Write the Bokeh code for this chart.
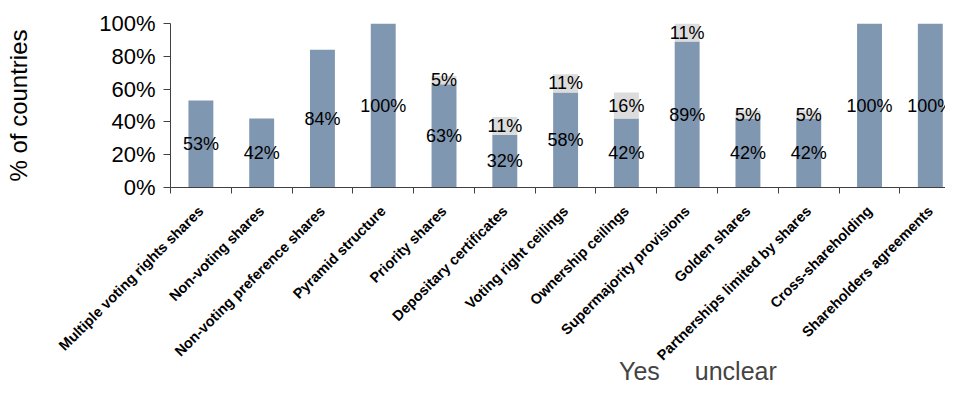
import math
from bokeh.plotting import figure
from bokeh.layouts import column
from bokeh.models import (ColumnDataSource, Range1d, FixedTicker, NumeralTickFormatter,
                          Legend, LegendItem, LabelSet)
from bokeh.core.properties import value
from bokeh.embed import file_html
from bokeh.resources import INLINE

categories = ["Multiple voting rights shares", "Non-voting shares", "Non-voting preference shares",
              "Pyramid structure", "Priority shares", "Depositary certificates",
              "Voting right ceilings", "Ownership ceilings", "Supermajority provisions",
              "Golden shares", "Partnerships limited by shares", "Cross-shareholding",
              "Shareholders agreements"]
yes = [53, 42, 84, 100, 63, 32, 58, 42, 89, 42, 42, 100, 100]
unclear = [0, 0, 0, 0, 5, 11, 11, 16, 11, 5, 5, 0, 0]
y_ticks = [0, 0.2, 0.4, 0.6, 0.8, 1.0]
series_names = ["Yes", "unclear"]

FONT = "Liberation Sans"
BLUE = "#8097B2"
GREY = "#DCDCDC"

xs = [i + 0.5 for i in range(len(categories))]
src = ColumnDataSource(dict(
    x=xs,
    yes=[v / 100 for v in yes],
    unclear=[v / 100 for v in unclear],
))

p = figure(frame_width=775, frame_height=164, output_backend="svg", toolbar_location=None,
           x_range=Range1d(0, 12.75), y_range=Range1d(0, 1.0),
           min_border_left=170, min_border_top=23, min_border_right=0, min_border_bottom=0)
p.outline_line_color = None
p.xgrid.visible = False
p.ygrid.visible = False

rs = p.vbar_stack(["yes", "unclear"], x="x", width=0.41, color=[BLUE, GREY],
                  line_color=None, source=src)

# value labels
lab_yes = ColumnDataSource(dict(x=xs, y=[v / 200 for v in yes], t=[f"{v}%" for v in yes]))
ux, uy, ut = [], [], []
for x, a, b in zip(xs, yes, unclear):
    if b > 0:
        ux.append(x); uy.append((a + b / 2) / 100); ut.append(f"{b}%")
lab_unc = ColumnDataSource(dict(x=ux, y=uy, t=ut))
for s in (lab_yes, lab_unc):
    p.add_layout(LabelSet(x="x", y="y", text="t", source=s, text_align="center",
                          text_baseline="middle", text_font=value(FONT), text_font_size="18px",
                          text_color="#000000"))

# x axis
xa = p.xaxis[0]
xa.ticker = FixedTicker(ticks=xs, minor_ticks=list(range(0, 13)))
xa.major_label_overrides = {x: c for x, c in zip(xs, categories)}
xa.major_label_orientation = math.pi / 4
xa.major_label_text_font = FONT
xa.major_label_text_font_style = "bold"
xa.major_label_text_font_size = "14.5px"
xa.major_label_text_color = "#000000"
xa.major_tick_out = 0
xa.major_tick_in = 0
xa.minor_tick_out = 6
xa.minor_tick_in = 0
xa.major_label_standoff = 15
xa.axis_line_color = "#404040"
xa.minor_tick_line_color = "#404040"

# y axis
ya = p.yaxis[0]
ya.ticker = FixedTicker(ticks=y_ticks, minor_ticks=[])
ya.formatter = NumeralTickFormatter(format="0%")
ya.major_label_text_font = FONT
ya.major_label_text_font_size = "22px"
ya.major_label_text_color = "#000000"
ya.major_tick_out = 7
ya.major_tick_in = 0
ya.major_label_standoff = 8
ya.axis_line_color = "#404040"
ya.major_tick_line_color = "#404040"
ya.axis_label = "% of countries"
ya.axis_label_text_font = FONT
ya.axis_label_text_font_size = "24px"
ya.axis_label_text_font_style = "normal"
ya.axis_label_text_color = "#000000"
ya.axis_label_standoff = 64

# legend strip, pulled up over the unused space under the rotated labels
lf = figure(width=945, height=40, output_backend="svg", toolbar_location=None,
            x_range=Range1d(0, 1), y_range=Range1d(0, 1),
            x_axis_location=None, y_axis_location=None,
            min_border_left=0, min_border_right=0, min_border_top=0, min_border_bottom=0,
            margin=(-22, 0, 0, 0))
lf.outline_line_color = None
lf.xgrid.visible = False
lf.ygrid.visible = False
lf.background_fill_alpha = 0
lf.border_fill_alpha = 0
empty = ColumnDataSource(dict(x=[], top=[]))
r_yes = lf.vbar(x="x", top="top", width=0.1, color=BLUE, line_color=None, source=empty)
r_unc = lf.vbar(x="x", top="top", width=0.1, color=GREY, line_color=None, source=empty)

legend = Legend(items=[LegendItem(label=series_names[0], renderers=[r_yes]),
                       LegendItem(label=series_names[1], renderers=[r_unc])],
                orientation="horizontal", location=(426, 4),
                label_text_font=FONT, label_text_font_size="25px",
                label_height=20, glyph_width=16, glyph_height=16, spacing=12, label_standoff=7,
                padding=0, margin=0, border_line_color=None, background_fill_alpha=0)
lf.add_layout(legend, "center")

layout = column(p, lf, spacing=0)
open("out.html", "w").write(file_html(layout, INLINE))
